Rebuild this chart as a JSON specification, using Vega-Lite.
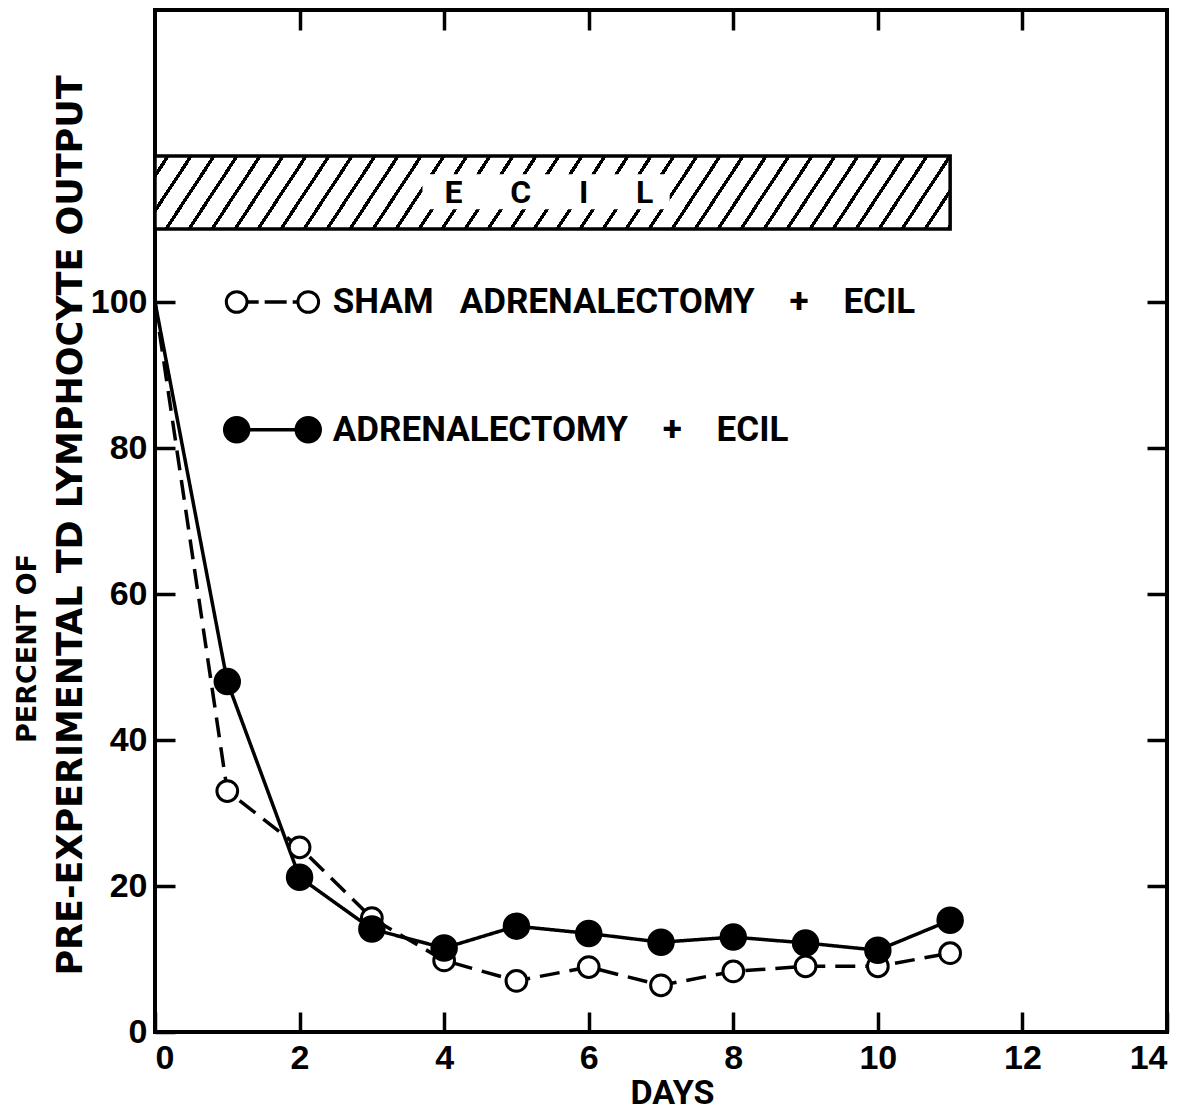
{
  "$schema": "https://vega.github.io/schema/vega-lite/v6.json",
  "width": 1012,
  "height": 1022,
  "autosize": {"type": "none"},
  "padding": {"left": 155, "top": 10, "right": 27, "bottom": 81},
  "background": "white",
  "config": {
    "view": {"stroke": "black", "strokeWidth": 4},
    "axis": {
      "domain": false,
      "grid": false,
      "tickColor": "black",
      "tickWidth": 3.5,
      "tickSize": -20,
      "labelColor": "black",
      "labelFont": "Liberation Sans",
      "labelFontWeight": "bold",
      "labelFontSize": 34,
      "titleColor": "black"
    }
  },
  "datasets": {
    "series": [
      {"day": 0, "pct": 100, "group": "sham"},
      {"day": 1, "pct": 33, "group": "sham"},
      {"day": 2, "pct": 25.3, "group": "sham"},
      {"day": 3, "pct": 15.6, "group": "sham"},
      {"day": 4, "pct": 9.8, "group": "sham"},
      {"day": 5, "pct": 7, "group": "sham"},
      {"day": 6, "pct": 8.9, "group": "sham"},
      {"day": 7, "pct": 6.4, "group": "sham"},
      {"day": 8, "pct": 8.3, "group": "sham"},
      {"day": 9, "pct": 9, "group": "sham"},
      {"day": 10, "pct": 9, "group": "sham"},
      {"day": 11, "pct": 10.8, "group": "sham"},
      {"day": 0, "pct": 100, "group": "adx"},
      {"day": 1, "pct": 48, "group": "adx"},
      {"day": 2, "pct": 21.2, "group": "adx"},
      {"day": 3, "pct": 14.1, "group": "adx"},
      {"day": 4, "pct": 11.5, "group": "adx"},
      {"day": 5, "pct": 14.5, "group": "adx"},
      {"day": 6, "pct": 13.5, "group": "adx"},
      {"day": 7, "pct": 12.3, "group": "adx"},
      {"day": 8, "pct": 13, "group": "adx"},
      {"day": 9, "pct": 12.2, "group": "adx"},
      {"day": 10, "pct": 11.2, "group": "adx"},
      {"day": 11, "pct": 15.3, "group": "adx"}
    ],
    "period": [{"treatment": "ECIL", "start": 0, "end": 11}]
  },
  "layer": [
    {
      "data": {"name": "period"},
      "mark": {
        "type": "rect",
        "stroke": "black",
        "strokeWidth": 3.5,
        "fill": {
          "gradient": "linear",
          "x1": 0, "y1": 0, "x2": 1.0565, "y2": 0.0638,
          "stops": [
            {"offset": 0, "color": "white"},
            {"offset": 0.0131, "color": "white"}, {"offset": 0.0131, "color": "black"}, {"offset": 0.0179, "color": "black"}, {"offset": 0.0179, "color": "white"},
            {"offset": 0.0404, "color": "white"}, {"offset": 0.0404, "color": "black"}, {"offset": 0.0452, "color": "black"}, {"offset": 0.0452, "color": "white"},
            {"offset": 0.0676, "color": "white"}, {"offset": 0.0676, "color": "black"}, {"offset": 0.0724, "color": "black"}, {"offset": 0.0724, "color": "white"},
            {"offset": 0.0949, "color": "white"}, {"offset": 0.0949, "color": "black"}, {"offset": 0.0997, "color": "black"}, {"offset": 0.0997, "color": "white"},
            {"offset": 0.1222, "color": "white"}, {"offset": 0.1222, "color": "black"}, {"offset": 0.1270, "color": "black"}, {"offset": 0.1270, "color": "white"},
            {"offset": 0.1495, "color": "white"}, {"offset": 0.1495, "color": "black"}, {"offset": 0.1543, "color": "black"}, {"offset": 0.1543, "color": "white"},
            {"offset": 0.1768, "color": "white"}, {"offset": 0.1768, "color": "black"}, {"offset": 0.1816, "color": "black"}, {"offset": 0.1816, "color": "white"},
            {"offset": 0.2040, "color": "white"}, {"offset": 0.2040, "color": "black"}, {"offset": 0.2088, "color": "black"}, {"offset": 0.2088, "color": "white"},
            {"offset": 0.2313, "color": "white"}, {"offset": 0.2313, "color": "black"}, {"offset": 0.2361, "color": "black"}, {"offset": 0.2361, "color": "white"},
            {"offset": 0.2586, "color": "white"}, {"offset": 0.2586, "color": "black"}, {"offset": 0.2634, "color": "black"}, {"offset": 0.2634, "color": "white"},
            {"offset": 0.2859, "color": "white"}, {"offset": 0.2859, "color": "black"}, {"offset": 0.2907, "color": "black"}, {"offset": 0.2907, "color": "white"},
            {"offset": 0.3132, "color": "white"}, {"offset": 0.3132, "color": "black"}, {"offset": 0.3180, "color": "black"}, {"offset": 0.3180, "color": "white"},
            {"offset": 0.3404, "color": "white"}, {"offset": 0.3404, "color": "black"}, {"offset": 0.3452, "color": "black"}, {"offset": 0.3452, "color": "white"},
            {"offset": 0.3677, "color": "white"}, {"offset": 0.3677, "color": "black"}, {"offset": 0.3725, "color": "black"}, {"offset": 0.3725, "color": "white"},
            {"offset": 0.3950, "color": "white"}, {"offset": 0.3950, "color": "black"}, {"offset": 0.3998, "color": "black"}, {"offset": 0.3998, "color": "white"},
            {"offset": 0.4223, "color": "white"}, {"offset": 0.4223, "color": "black"}, {"offset": 0.4271, "color": "black"}, {"offset": 0.4271, "color": "white"},
            {"offset": 0.4496, "color": "white"}, {"offset": 0.4496, "color": "black"}, {"offset": 0.4544, "color": "black"}, {"offset": 0.4544, "color": "white"},
            {"offset": 0.4768, "color": "white"}, {"offset": 0.4768, "color": "black"}, {"offset": 0.4816, "color": "black"}, {"offset": 0.4816, "color": "white"},
            {"offset": 0.5041, "color": "white"}, {"offset": 0.5041, "color": "black"}, {"offset": 0.5089, "color": "black"}, {"offset": 0.5089, "color": "white"},
            {"offset": 0.5314, "color": "white"}, {"offset": 0.5314, "color": "black"}, {"offset": 0.5362, "color": "black"}, {"offset": 0.5362, "color": "white"},
            {"offset": 0.5587, "color": "white"}, {"offset": 0.5587, "color": "black"}, {"offset": 0.5635, "color": "black"}, {"offset": 0.5635, "color": "white"},
            {"offset": 0.5860, "color": "white"}, {"offset": 0.5860, "color": "black"}, {"offset": 0.5908, "color": "black"}, {"offset": 0.5908, "color": "white"},
            {"offset": 0.6132, "color": "white"}, {"offset": 0.6132, "color": "black"}, {"offset": 0.6180, "color": "black"}, {"offset": 0.6180, "color": "white"},
            {"offset": 0.6405, "color": "white"}, {"offset": 0.6405, "color": "black"}, {"offset": 0.6453, "color": "black"}, {"offset": 0.6453, "color": "white"},
            {"offset": 0.6678, "color": "white"}, {"offset": 0.6678, "color": "black"}, {"offset": 0.6726, "color": "black"}, {"offset": 0.6726, "color": "white"},
            {"offset": 0.6951, "color": "white"}, {"offset": 0.6951, "color": "black"}, {"offset": 0.6999, "color": "black"}, {"offset": 0.6999, "color": "white"},
            {"offset": 0.7224, "color": "white"}, {"offset": 0.7224, "color": "black"}, {"offset": 0.7272, "color": "black"}, {"offset": 0.7272, "color": "white"},
            {"offset": 0.7496, "color": "white"}, {"offset": 0.7496, "color": "black"}, {"offset": 0.7544, "color": "black"}, {"offset": 0.7544, "color": "white"},
            {"offset": 0.7769, "color": "white"}, {"offset": 0.7769, "color": "black"}, {"offset": 0.7817, "color": "black"}, {"offset": 0.7817, "color": "white"},
            {"offset": 0.8042, "color": "white"}, {"offset": 0.8042, "color": "black"}, {"offset": 0.8090, "color": "black"}, {"offset": 0.8090, "color": "white"},
            {"offset": 0.8315, "color": "white"}, {"offset": 0.8315, "color": "black"}, {"offset": 0.8363, "color": "black"}, {"offset": 0.8363, "color": "white"},
            {"offset": 0.8588, "color": "white"}, {"offset": 0.8588, "color": "black"}, {"offset": 0.8636, "color": "black"}, {"offset": 0.8636, "color": "white"},
            {"offset": 0.8860, "color": "white"}, {"offset": 0.8860, "color": "black"}, {"offset": 0.8908, "color": "black"}, {"offset": 0.8908, "color": "white"},
            {"offset": 0.9133, "color": "white"}, {"offset": 0.9133, "color": "black"}, {"offset": 0.9181, "color": "black"}, {"offset": 0.9181, "color": "white"},
            {"offset": 0.9406, "color": "white"}, {"offset": 0.9406, "color": "black"}, {"offset": 0.9454, "color": "black"}, {"offset": 0.9454, "color": "white"},
            {"offset": 0.9679, "color": "white"}, {"offset": 0.9679, "color": "black"}, {"offset": 0.9727, "color": "black"}, {"offset": 0.9727, "color": "white"},
            {"offset": 0.9952, "color": "white"}, {"offset": 0.9952, "color": "black"}, {"offset": 0.9999, "color": "black"}, {"offset": 0.9999, "color": "white"},
            {"offset": 1, "color": "white"}
          ]
        }
      },
      "encoding": {
        "x": {"field": "start", "type": "quantitative", "axis": null},
        "x2": {"field": "end"},
        "y": {"datum": 110, "type": "quantitative", "axis": null},
        "y2": {"datum": 120}
      }
    },
    {
      "data": {"name": "period"},
      "mark": {"type": "rect", "fill": "white", "strokeWidth": 0},
      "encoding": {
        "x": {"datum": 3.7, "type": "quantitative", "axis": null},
        "x2": {"datum": 7.12},
        "y": {"datum": 112.7, "type": "quantitative", "axis": null},
        "y2": {"datum": 117.5}
      }
    },
    {
      "data": {"name": "period"},
      "mark": {
        "type": "text",
        "text": "E\u00a0\u00a0\u00a0\u00a0\u00a0\u00a0C\u00a0\u00a0\u00a0\u00a0\u00a0\u00a0I\u00a0\u00a0\u00a0\u00a0\u00a0\u00a0L",
        "font": "Roboto",
        "fontWeight": "bold",
        "fontSize": 32,
        "align": "center",
        "baseline": "middle",
        "color": "black"
      },
      "encoding": {
        "x": {"datum": 5.45, "type": "quantitative", "axis": null},
        "y": {"datum": 115, "type": "quantitative", "axis": null}
      }
    },
    {
      "data": {"name": "series"},
      "mark": {"type": "line", "stroke": "black", "strokeWidth": 3.5},
      "encoding": {
        "x": {
          "field": "day",
          "type": "quantitative",
          "scale": {"domain": [0, 14], "nice": false, "zero": false},
          "axis": {
            "orient": "bottom",
            "values": [0, 2, 4, 6, 8, 10, 12, 14],
            "labelPadding": 29,
            "labelDx": 4,
            "title": "DAYS",
            "titleFont": "Roboto",
            "titleFontWeight": "bold",
            "titleFontSize": 34,
            "titleX": 517,
            "titleY": 61,
            "titleAlign": "center",
            "titleBaseline": "middle"
          }
        },
        "y": {
          "field": "pct",
          "type": "quantitative",
          "scale": {"domain": [0, 140], "nice": false},
          "axis": {
            "orient": "left",
            "values": [0, 20, 40, 60, 80, 100],
            "labelPadding": 28,
            "title": "PRE-EXPERIMENTAL TD LYMPHOCYTE OUTPUT",
            "titleFont": "DejaVu Sans",
            "titleFontWeight": "bold",
            "titleFontSize": 35,
            "titleAngle": 270,
            "titleX": -85,
            "titleY": 515,
            "titleAlign": "center",
            "titleBaseline": "middle"
          }
        },
        "strokeDash": {
          "field": "group",
          "type": "nominal",
          "scale": {"domain": ["adx", "sham"], "range": [[1, 0], [20, 10]]},
          "legend": null
        }
      }
    },
    {
      "data": {"name": "series"},
      "transform": [{"filter": "datum.day > 0"}],
      "mark": {"type": "point", "shape": "circle", "filled": true, "stroke": "black", "strokeWidth": 3, "opacity": 1},
      "encoding": {
        "x": {
          "field": "day",
          "type": "quantitative",
          "axis": {"orient": "top", "values": [2, 4, 6, 8, 10, 12], "labels": false, "title": null}
        },
        "y": {
          "field": "pct",
          "type": "quantitative",
          "axis": {
            "orient": "right",
            "values": [20, 40, 60, 80, 100],
            "labels": false,
            "title": "PERCENT OF",
            "titleFont": "DejaVu Sans",
            "titleFontWeight": "bold",
            "titleFontSize": 27,
            "titleAngle": 270,
            "titleX": -1140,
            "titleY": 638,
            "titleAlign": "center",
            "titleBaseline": "middle"
          }
        },
        "fill": {
          "field": "group",
          "type": "nominal",
          "scale": {"domain": ["adx", "sham"], "range": ["black", "white"]},
          "legend": null
        },
        "size": {
          "field": "group",
          "type": "nominal",
          "scale": {"domain": ["adx", "sham"], "range": [600, 430]},
          "legend": null
        }
      }
    },
    {
      "data": {"values": [{"label": "SHAM\u00a0\u00a0\u00a0ADRENALECTOMY\u00a0\u00a0\u00a0\u00a0+\u00a0\u00a0\u00a0\u00a0ECIL"}]},
      "encoding": {"y": {"datum": 100, "type": "quantitative", "axis": null}},
      "layer": [
        {
          "mark": {"type": "rule", "stroke": "black", "strokeWidth": 3.5, "strokeDash": [22, 6]},
          "encoding": {"x": {"datum": 1.13, "type": "quantitative", "axis": null}, "x2": {"datum": 2.12}}
        },
        {
          "mark": {"type": "point", "shape": "circle", "filled": true, "fill": "white", "stroke": "black", "strokeWidth": 3, "size": 430, "opacity": 1},
          "encoding": {"x": {"datum": 1.13, "type": "quantitative", "axis": null}}
        },
        {
          "mark": {"type": "point", "shape": "circle", "filled": true, "fill": "white", "stroke": "black", "strokeWidth": 3, "size": 430, "opacity": 1},
          "encoding": {"x": {"datum": 2.12, "type": "quantitative", "axis": null}}
        },
        {
          "mark": {"type": "text", "align": "left", "baseline": "middle", "font": "Roboto", "fontWeight": "bold", "fontSize": 35, "color": "black"},
          "encoding": {"x": {"datum": 2.46, "type": "quantitative", "axis": null}, "text": {"field": "label"}}
        }
      ]
    },
    {
      "data": {"values": [{"label": "ADRENALECTOMY\u00a0\u00a0\u00a0\u00a0+\u00a0\u00a0\u00a0\u00a0ECIL"}]},
      "encoding": {"y": {"datum": 82.5, "type": "quantitative", "axis": null}},
      "layer": [
        {
          "mark": {"type": "rule", "stroke": "black", "strokeWidth": 3.5},
          "encoding": {"x": {"datum": 1.13, "type": "quantitative", "axis": null}, "x2": {"datum": 2.12}}
        },
        {
          "mark": {"type": "point", "shape": "circle", "filled": true, "fill": "black", "stroke": "black", "strokeWidth": 3, "size": 600, "opacity": 1},
          "encoding": {"x": {"datum": 1.13, "type": "quantitative", "axis": null}}
        },
        {
          "mark": {"type": "point", "shape": "circle", "filled": true, "fill": "black", "stroke": "black", "strokeWidth": 3, "size": 600, "opacity": 1},
          "encoding": {"x": {"datum": 2.12, "type": "quantitative", "axis": null}}
        },
        {
          "mark": {"type": "text", "align": "left", "baseline": "middle", "font": "Roboto", "fontWeight": "bold", "fontSize": 35, "color": "black"},
          "encoding": {"x": {"datum": 2.46, "type": "quantitative", "axis": null}, "text": {"field": "label"}}
        }
      ]
    }
  ],
  "resolve": {"axis": {"x": "independent", "y": "independent"}}
}
